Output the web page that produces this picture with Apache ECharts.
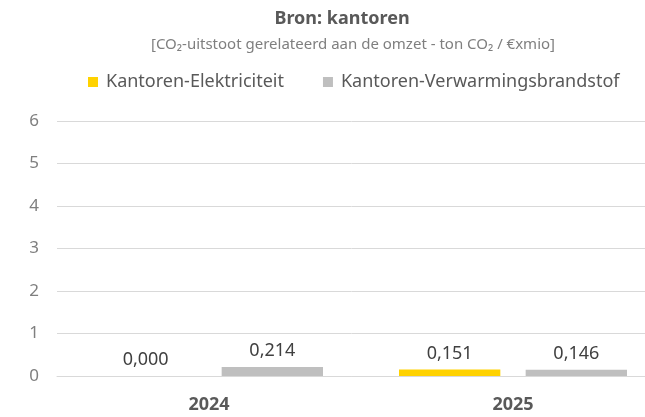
<!DOCTYPE html>
<html>
<head>
    <meta charset="utf-8">
    <title>Bron: kantoren</title>
    <script src="https://cdn.jsdelivr.net/npm/echarts@6/dist/echarts.min.js"></script>
    <style>
        html, body { margin: 0; padding: 0; background: #fff; }
        #chart { width: 645px; height: 417px; }
    </style>
</head>
<body>
    <div id="chart"></div>
    <script>
        var years = ['2024', '2025'];
        var elektriciteit = [0.000, 0.151];
        var verwarming = [0.214, 0.146];
        var seriesNames = ['Kantoren-Elektriciteit', 'Kantoren-Verwarmingsbrandstof'];

        var font = 'Noto Sans';
        var labelFmt = function (p) {
            return p.value.toFixed(3).replace('.', ',');
        };

        var chart = echarts.init(document.getElementById('chart'));
        chart.setOption({
            animation: false,
            title: [{
                text: 'Bron: kantoren',
                left: 337,
                textAlign: 'center',
                top: 5,
                textStyle: { fontFamily: font, fontSize: 18, fontWeight: 'bold', color: '#595959' }
            }, {
                text: '[CO₂-uitstoot gerelateerd aan de omzet - ton CO₂ / €xmio]',
                left: 348,
                textAlign: 'center',
                top: 32,
                textStyle: { fontFamily: font, fontSize: 15, fontWeight: 'normal', color: '#7f7f7f' }
            }],
            legend: {
                top: 68,
                left: 83,
                itemWidth: 10,
                itemHeight: 10,
                itemGap: 39,
                icon: 'rect',
                textStyle: { fontFamily: font, fontSize: 18, color: '#595959', padding: [0, 0, 0, 3] },
                data: seriesNames
            },
            grid: { left: 57, width: 608, top: 121, bottom: 41, outerBoundsMode: 'none' },
            xAxis: {
                type: 'category',
                data: years,
                axisLine: { show: true, lineStyle: { color: '#d9d9d9', width: 1 } },
                axisTick: { show: false },
                axisLabel: { fontFamily: font, fontSize: 18, fontWeight: 'bold', color: '#595959', margin: 20 }
            },
            yAxis: {
                type: 'value',
                min: 0,
                max: 6,
                interval: 1,
                axisLine: { show: false },
                axisTick: { show: false },
                axisLabel: { fontFamily: font, fontSize: 17, color: '#7f7f7f', margin: 18 },
                splitLine: { lineStyle: { color: '#d9d9d9', width: 1 } }
            },
            series: [{
                name: seriesNames[0],
                type: 'bar',
                data: elektriciteit,
                barGap: '25%',
                barCategoryGap: '25%',
                itemStyle: { color: '#FFD200' },
                label: { show: true, position: 'top', distance: 7, formatter: labelFmt,
                    fontFamily: font, fontSize: 18, color: '#404040' }
            }, {
                name: seriesNames[1],
                type: 'bar',
                data: verwarming,
                barGap: '25%',
                barCategoryGap: '25%',
                itemStyle: { color: '#BFBFBF' },
                label: { show: true, position: 'top', distance: 7, formatter: labelFmt,
                    fontFamily: font, fontSize: 18, color: '#404040' }
            }]
        });
    </script>
</body>
</html>
